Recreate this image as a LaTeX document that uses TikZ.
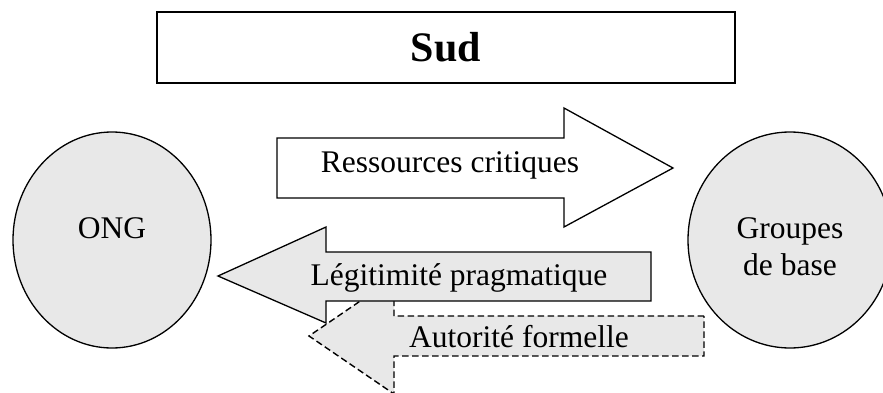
\documentclass[tikz,border=0pt]{standalone}
\usepackage{fontspec}
\setmainfont{Liberation Serif}
\usetikzlibrary{shapes.geometric}
\definecolor{lgray}{RGB}{232,232,232}
\tikzset{
  txt/.style={font=\fontsize{31.5}{37}\selectfont, inner sep=0pt},
  blob/.style={ellipse, draw=black, line width=1.3pt, fill=lgray, inner sep=0pt},
  blockarrow/.style={draw=black, line width=1.3pt, line join=miter},
  dasharrow/.style={draw=black, line width=1.4pt, dash pattern=on 6.5pt off 3.5pt, fill=lgray}
}
\begin{document}
\begin{tikzpicture}[x=1pt,y=-1pt]
\useasboundingbox (0,0) rectangle (883,393);
% Sud box
\node[draw=black, line width=1.8pt, minimum width=578pt, minimum height=71pt, inner sep=0pt,
      font=\fontsize{42}{48}\selectfont\bfseries] (sud) at (446,47.5) {Sud};
% circles
\node[blob, minimum width=198pt, minimum height=216pt] (ong) at (112,240) {};
\node[txt, anchor=base] (ongt) at (112,238) {ONG};
\node[blob, minimum width=204pt, minimum height=216pt] (grp) at (790,240) {};
\node[txt, anchor=base] (grpt) at (790,238) {Groupes};
\node[txt, anchor=base] (grpt2) at (790,275) {de base};
% Ressources critiques arrow
\draw[blockarrow, fill=white] (277,138) -- (564,138) -- (564,108) -- (673,168) -- (564,227) -- (564,198) -- (277,198) -- cycle;
\node[txt, anchor=base] (res) at (450,172) {Ressources critiques};
% Autorite formelle arrow (dashed)
\draw[dasharrow] (704,316) -- (394,316) -- (394,278) -- (309,336) -- (394,394) -- (394,356) -- (704,356) -- cycle;
\node[txt, anchor=base] (aut) at (519,347) {Autorité formelle};
% Legitimite pragmatique arrow
\draw[blockarrow, fill=lgray] (651,252) -- (326,252) -- (326,227) -- (218,276) -- (326,323) -- (326,301) -- (651,301) -- cycle;
\node[txt, anchor=base] (leg) at (459,285) {Légitimité pragmatique};
\end{tikzpicture}
\end{document}
